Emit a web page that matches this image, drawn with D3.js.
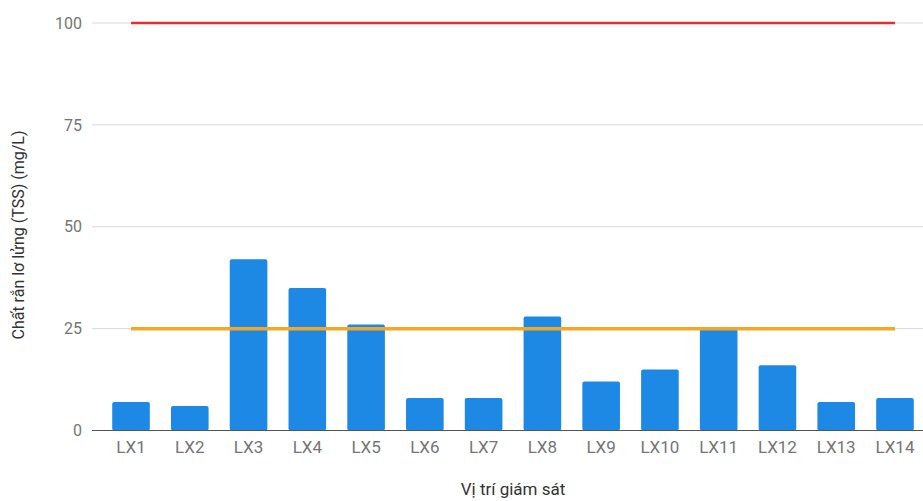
<!DOCTYPE html>
<html><head><meta charset="utf-8">
<script src="https://cdn.jsdelivr.net/npm/d3@7/dist/d3.min.js"></script>
<style>body{margin:0;background:#fff;}svg{display:block;font-family:Roboto,sans-serif;}</style>
</head><body><svg id="c" width="923" height="501"></svg>
<script>
const categories = ["LX1","LX2","LX3","LX4","LX5","LX6","LX7","LX8","LX9","LX10","LX11","LX12","LX13","LX14"];
const tssValues = [7,6,42,35,26,8,8,28,12,15,25,16,7,8];
const limitA = 100;
const limitB = 25;
const yTicks = [0,25,50,75,100];
const yTitle = "Chất rắn lơ lửng (TSS) (mg/L)";
const xTitle = "Vị trí giám sát";

const svg = d3.select("#c");
const x = d3.scaleBand().domain(categories).range([92, 934]).paddingInner(0.36).paddingOuter(0.344);
const y = d3.scaleLinear().domain([0,100]).range([430.5, 23]);

// y tick labels
const yAxis = d3.axisLeft(y).tickValues(yTicks).tickSize(0).tickPadding(10);
const gy = svg.append("g").attr("transform","translate(92,0)").call(yAxis);
gy.select(".domain").remove();
gy.selectAll("text").attr("fill","#757575").style("font-size","16px").attr("font-family","Roboto,sans-serif");
// gridlines
svg.append("g").selectAll("line").data(yTicks.filter(d=>d>0)).join("line")
  .attr("x1",92).attr("x2",923).attr("y1",d=>y(d)).attr("y2",d=>y(d))
  .attr("stroke","#d9d9d9").attr("stroke-width",1);

// bars
svg.append("g").selectAll("rect").data(categories).join("rect")
  .attr("x",d=>x(d)).attr("width",x.bandwidth())
  .attr("y",(d,i)=>y(tssValues[i])).attr("height",(d,i)=>y(0)-y(tssValues[i]))
  .attr("rx",2).attr("fill","#1e88e5");

// baseline
svg.append("line").attr("x1",92).attr("x2",923).attr("y1",y(0)).attr("y2",y(0))
  .attr("stroke","#555").attr("stroke-width",1.2);

// limit lines
const xc = d => x(d) + x.bandwidth()/2;
const lineGen = d3.line().x(d=>xc(d[0])).y(d=>y(d[1]));
svg.append("path").datum(categories.map(c=>[c,limitA])).attr("d",lineGen)
  .attr("fill","none").attr("stroke","#e03030").attr("stroke-width",2.5);
svg.append("path").datum(categories.map(c=>[c,limitB])).attr("d",lineGen)
  .attr("fill","none").attr("stroke","#f5a623").attr("stroke-width",3.5);

// x axis labels
const xAxis = d3.axisBottom(x).tickSize(0).tickPadding(10);
const gx = svg.append("g").attr("transform",`translate(0,${y(0)})`).call(xAxis);
gx.select(".domain").remove();
gx.selectAll("text").attr("fill","#757575").style("font-size","17px").attr("font-family","Roboto,sans-serif");

// titles
svg.append("text").attr("x",513).attr("y",495).attr("text-anchor","middle")
  .attr("fill","#333").style("font-size","17px").text(xTitle);
svg.append("text").attr("transform","translate(24,235) rotate(-90)").attr("text-anchor","middle")
  .attr("fill","#333").style("font-size","16px").text(yTitle);
</script></body></html>
